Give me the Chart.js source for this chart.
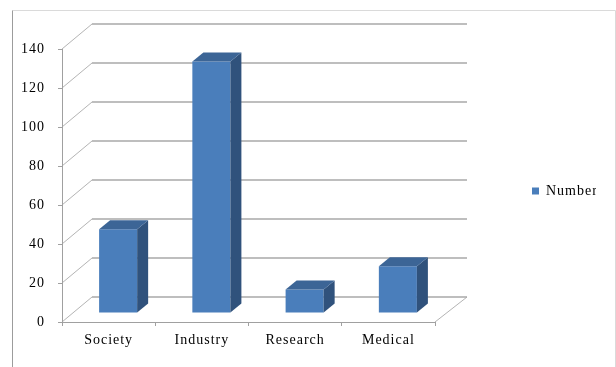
<!DOCTYPE html>
<html>
<head>
<meta charset="utf-8">
<script src="https://cdn.jsdelivr.net/npm/chart.js@4/dist/chart.umd.min.js"></script>
<style>
  html, body { margin: 0; padding: 0; background: #fff; }
  canvas { display: block; }
</style>
</head>
<body>
<canvas id="chart" width="616" height="367"></canvas>
<script>
// Data
const categories = ['Society', 'Industry', 'Research', 'Medical'];
const seriesName = 'Number';
const numberValues = [43, 129, 12, 24];
const valueTicks = [0, 20, 40, 60, 80, 100, 120, 140];

// Styling
const FONT = "'Times New Roman', 'Liberation Serif', serif";
const FRONT = '#4a7ebb';
const SIDE = '#30527c';
const TOP = '#3c6596';
const GRID = '#a8a8a8';
const AXIS = '#a0a0a0';
const WALL = { dxLeft: 30, dxRight: 32, dy: -25 };   // depth of the back wall
const BAR_SHIFT = { dx: 9.5, dy: -9 };             // columns sit partway into the floor
const BAR_DEPTH = { dx: 11, dy: -9 };              // column thickness

// Slightly spaced lettering for all canvas text
const letterSpacing = {
  id: 'letterSpacing',
  beforeLayout(chart) { chart.ctx.letterSpacing = '1px'; },
  beforeDraw(chart) { chart.ctx.letterSpacing = '1px'; }
};

// Category labels hang below the thin x-axis box; let them draw down to the canvas edge
const labelRoom = {
  id: 'labelRoom',
  afterLayout(chart) { chart.scales.x.bottom = chart.height; }
};

// Frame, back wall, side wall and floor outline
const walls = {
  id: 'walls',
  beforeDraw(chart) {
    const { ctx, chartArea: a, scales: { y } } = chart;
    ctx.save();
    ctx.fillStyle = '#fff';
    ctx.fillRect(0, 0, chart.width, chart.height);

    ctx.lineWidth = 1;
    ctx.strokeStyle = '#dadada';
    ctx.beginPath();
    ctx.moveTo(12.5, 10.5);
    ctx.lineTo(615.5, 10.5);
    ctx.lineTo(615.5, 372);
    ctx.stroke();
    ctx.strokeStyle = '#9c9c9c';
    ctx.beginPath();
    ctx.moveTo(12.5, 10.5);
    ctx.lineTo(12.5, 372);
    ctx.stroke();

    // side-wall diagonals
    ctx.strokeStyle = '#b4b4b4';
    ctx.lineWidth = 1;
    y.ticks.forEach(t => {
      const py = y.getPixelForValue(t.value);
      ctx.beginPath();
      ctx.moveTo(a.left, py);
      ctx.lineTo(a.left + WALL.dxLeft, py + WALL.dy);
      ctx.stroke();
    });
    // floor right edge
    ctx.beginPath();
    ctx.moveTo(a.right, a.bottom);
    ctx.lineTo(a.right + WALL.dxRight, a.bottom + WALL.dy);
    ctx.stroke();

    // back-wall gridlines
    ctx.strokeStyle = GRID;
    ctx.lineWidth = 1.6;
    y.ticks.forEach(t => {
      const py = y.getPixelForValue(t.value) + WALL.dy;
      ctx.beginPath();
      ctx.moveTo(a.left + WALL.dxLeft, py);
      ctx.lineTo(a.right + WALL.dxRight, py);
      ctx.stroke();
    });
    ctx.restore();
  }
};

// Columns: front faces drawn by Chart.js (shifted into depth), then side and top faces
const columns3d = {
  id: 'columns3d',
  beforeDatasetsDraw(chart) {
    chart.ctx.save();
    chart.ctx.translate(BAR_SHIFT.dx, BAR_SHIFT.dy);
  },
  afterDatasetsDraw(chart) {
    const ctx = chart.ctx;
    ctx.restore();
    ctx.save();
    chart.getDatasetMeta(0).data.forEach(bar => {
      const { x, y, base, width } = bar.getProps(['x', 'y', 'base', 'width'], true);
      const l = x - width / 2 + BAR_SHIFT.dx;
      const r = x + width / 2 + BAR_SHIFT.dx;
      const t = y + BAR_SHIFT.dy;
      const b = base + BAR_SHIFT.dy;
      ctx.fillStyle = SIDE;
      ctx.beginPath();
      ctx.moveTo(r, t);
      ctx.lineTo(r + BAR_DEPTH.dx, t + BAR_DEPTH.dy);
      ctx.lineTo(r + BAR_DEPTH.dx, b + BAR_DEPTH.dy);
      ctx.lineTo(r, b);
      ctx.closePath();
      ctx.fill();
      ctx.fillStyle = TOP;
      ctx.beginPath();
      ctx.moveTo(l, t);
      ctx.lineTo(l + BAR_DEPTH.dx, t + BAR_DEPTH.dy);
      ctx.lineTo(r + BAR_DEPTH.dx, t + BAR_DEPTH.dy);
      ctx.lineTo(r, t);
      ctx.closePath();
      ctx.fill();
    });
    ctx.restore();
  }
};

new Chart(document.getElementById('chart'), {
  type: 'bar',
  data: {
    labels: categories,
    datasets: [{
      label: seriesName,
      data: numberValues,
      backgroundColor: FRONT,
      borderWidth: 0,
      barPercentage: 0.408,
      categoryPercentage: 1
    }]
  },
  options: {
    responsive: false,
    animation: false,
    layout: { padding: { left: 0, top: 49, right: 20, bottom: 34 } },
    plugins: {
      tooltip: { enabled: false },
      legend: {
        position: 'right',
        align: 'center',
        maxWidth: 161,
        labels: {
          boxWidth: 7,
          boxHeight: 7,
          padding: 97,
          color: '#000',
          font: { family: FONT, size: 14 }
        }
      }
    },
    scales: {
      x: {
        afterFit(s) { s.height = 11; },
        grid: { drawOnChartArea: false, drawTicks: true, tickLength: 4, color: AXIS, offset: true },
        border: { display: true, color: AXIS },
        ticks: { color: '#000', padding: 6, font: { family: FONT, size: 14 } }
      },
      y: {
        min: 0,
        max: 140,
        afterFit(s) { s.width = 62; },
        afterBuildTicks(s) { s.ticks = valueTicks.map(v => ({ value: v })); },
        grid: { drawOnChartArea: false, drawTicks: true, tickLength: 4, color: AXIS },
        border: { display: true, color: AXIS },
        ticks: { color: '#000', padding: 13, font: { family: FONT, size: 14 } }
      }
    }
  },
  plugins: [letterSpacing, labelRoom, walls, columns3d]
});
</script>
</body>
</html>
